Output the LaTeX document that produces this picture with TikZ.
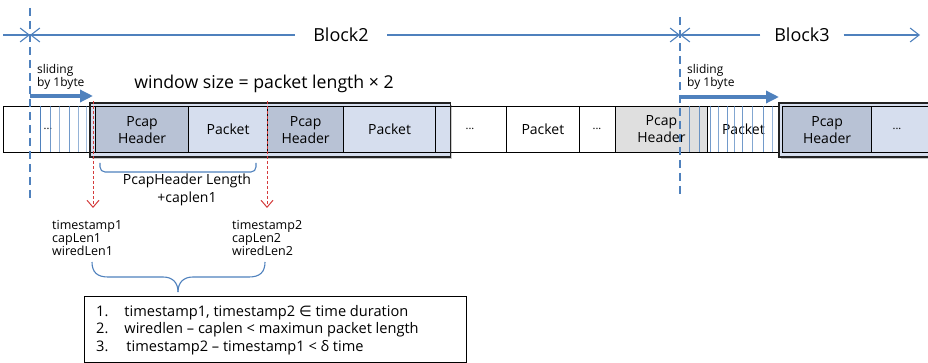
\documentclass[tikz,border=0pt]{standalone}
\usepackage{fontspec}
\setmainfont{Open Sans}
\newfontfamily\symfont{DejaVu Sans}
\usetikzlibrary{arrows.meta,shadows}

\definecolor{lineblue}{RGB}{79,129,189}
\definecolor{hdrfill}{RGB}{184,194,213}
\definecolor{pktfill}{RGB}{214,222,238}
\definecolor{grayfill}{RGB}{223,223,223}
\definecolor{redline}{RGB}{212,60,60}
\definecolor{framegray}{RGB}{35,35,35}

\tikzset{
  cell/.style={draw=black, line width=0.8pt, minimum height=46pt, inner sep=0pt,
    anchor=north west, align=center, font=\fontsize{14}{17}\selectfont},
  dots/.style={font=\fontsize{11}{12}\selectfont},
  window/.style={draw=none, fill=pktfill, anchor=north west, minimum height=54pt,
    inner sep=0pt, drop shadow={shadow xshift=2pt, shadow yshift=-2pt, opacity=0.35, fill=black!60}},
  winframe/.style={draw=framegray, line width=1.8pt},
  blockline/.style={draw=lineblue, line width=1.1pt, -{Straight Barb[length=9pt,width=14pt,line width=1.1pt]}},
  blocklabel/.style={font=\fontsize{18}{20}\selectfont, inner sep=0pt},
  boundary/.style={draw=lineblue, line width=2pt, dash pattern=on 8pt off 5pt},
  slidearrow/.style={draw=lineblue, line width=4pt, -{Triangle[length=13pt,width=12pt]}},
  slidelabel/.style={font=\fontsize{12}{13}\selectfont, align=left, inner sep=0pt, anchor=west},
  byteline/.style={draw=lineblue, line width=0.9pt},
  probe/.style={draw=redline, line width=1pt, dash pattern=on 3pt off 2pt,
    -{Straight Barb[length=7pt,width=12pt,line width=1pt]}},
  fieldlist/.style={font=\fontsize{12.5}{13}\selectfont, align=left, inner sep=0pt, anchor=north west},
}

\begin{document}
\begin{tikzpicture}[x=1pt, y=-1pt]
\useasboundingbox (0,0) rectangle (928,363);

% windows (fill and shadow behind the cells)
\node[window, minimum width=360pt] (win1) at (90,103) {};
\node[window, minimum width=160pt] (win2) at (779,103) {};

% packet stream cells
\node[cell, minimum width=92pt] (c0) at (3,106) {};
\node[dots] (c0dots) at (48,129) {...};
\node[cell, minimum width=93pt, fill=hdrfill, line width=1.2pt] (h1) at (95,106) {Pcap\\Header};
\node[cell, minimum width=79pt, fill=pktfill, line width=1.2pt] (p1) at (188,106) {Packet};
\node[cell, minimum width=76pt, fill=hdrfill, line width=1.2pt] (h2) at (267,106) {Pcap\\Header};
\node[cell, minimum width=92pt, fill=pktfill, line width=1.2pt] (p2) at (343,106) {Packet};
\node[cell, minimum width=71pt] (c5) at (435,106) {};
\node[dots] (c5dots) at (470,129) {...};
\node[cell, minimum width=73pt] (c6) at (506,106) {Packet};
\node[cell, minimum width=36pt] (c7) at (579,106) {};
\node[dots] (c7dots) at (597,129) {...};
\node[cell, minimum width=92pt, fill=grayfill] (c8) at (615,106) {Pcap\\Header};
\node[cell, minimum width=72pt] (c9) at (707,106) {Packet};
\node[cell, minimum width=89pt, fill=hdrfill, line width=1.2pt] (h3) at (782,106) {Pcap\\Header};
\node[cell, minimum width=70pt, fill=pktfill, line width=1.2pt] (c11) at (871,106) {};
\node[dots] (c11dots) at (897,129) {...};

% byte-by-byte slide marks
\foreach \x/\o in {40/1,50/0.8,59/0.6,69/0.8,78/0.6,86/0.5,689/0.8,699/0.8,710/0.8,718/0.7,727/0.8,734/0.7,742/0.8,752/0.7,763/0.8,772/0.6}
  \draw[byteline, draw opacity=\o] (\x,106) -- (\x,152);

% window frames
\draw[winframe] (win1.north west) rectangle (win1.south east);
\draw[winframe] (win2.north west) rectangle (win2.south east);

% block boundaries
\coordinate (bnd1top) at (30,8);
\coordinate (bnd1bot) at (30,199);
\coordinate (bnd2top) at (680,17);
\coordinate (bnd2bot) at (680,197);
\draw[boundary] (bnd1top) -- (bnd1bot);
\draw[boundary] (bnd2top) -- (bnd2bot);

% block extents
\coordinate (blkstart) at (3,35);
\coordinate (blk2a) at (30,35);
\coordinate (blk3a) at (680,35);
\coordinate (blkend) at (920,35);
\node[blocklabel, minimum width=92pt] (b2) at (341,35) {Block2};
\node[blocklabel, minimum width=83pt] (b3) at (802,35) {Block3};
\draw[blockline] (blkstart) -- (blk2a);
\draw[blockline] (b2.west) -- (blk2a);
\draw[blockline] (b2.east) -- (blk3a);
\draw[blockline] (b3.west) -- (blk3a);
\draw[blockline] (b3.east) -- (blkend);

% sliding by one byte
\node[slidelabel] (sl1) at (37,77) {sliding\\by 1byte};
\node[slidelabel] (sl2) at (687,77) {sliding\\by 1byte};
\coordinate (s1a) at (30,96);
\coordinate (s1b) at (93,96);
\coordinate (s2a) at (680,97);
\coordinate (s2b) at (779,97);
\draw[slidearrow] (s1a) -- (s1b);
\draw[slidearrow] (s2a) -- (s2b);

\node[font=\fontsize{17.7}{19}\selectfont, inner sep=0pt] (wsize) at (264,84) {window size = packet length × 2};

% header + caplen span
\coordinate (spanl) at (100,163);
\coordinate (spanr) at (256,163);
\draw[lineblue, line width=1.1pt, rounded corners=5pt] (spanl) -- (100,172) -- (256,172) -- (spanr);
\node[font=\fontsize{14}{18}\selectfont, align=center, inner sep=0pt] (spantxt) at (187,190) {PcapHeader Length\\+caplen1};

% probes into the two pcap headers
\coordinate (pr1a) at (93,101);
\coordinate (pr1b) at (93,208);
\coordinate (pr2a) at (267,101);
\coordinate (pr2b) at (267,208);
\draw[probe] (pr1a) -- (pr1b);
\draw[probe] (pr2a) -- (pr2b);

% extracted header fields
\node[fieldlist] (f1) at (52,220) {timestamp1\\capLen1\\wiredLen1};
\node[fieldlist] (f2) at (232,220) {timestamp2\\capLen2\\wiredLen2};

% brace joining both field sets
\coordinate (brl) at (92,262);
\coordinate (brr) at (265,262);
\coordinate (brm) at (178,292);
\draw[lineblue, line width=1.1pt]
  (brl) .. controls (92,272) and (97,277) .. (108,277) -- (163,277)
        .. controls (172,277) and (178,282) .. (brm);
\draw[lineblue, line width=1.1pt]
  (brr) .. controls (265,272) and (260,277) .. (249,277) -- (193,277)
        .. controls (184,277) and (178,282) .. (brm);

% conditions
\node[draw=black, line width=1.4pt, minimum width=382pt, minimum height=66pt, anchor=north west, inner sep=0pt] (cond) at (84,296) {};
\node[font=\fontsize{14.6}{17.5}\selectfont, inner sep=0pt, anchor=north west] (condtxt) at (96,304) {%
  \begin{tabular}{@{}l@{\hspace{16pt}}l@{}}
  1. & timestamp1, timestamp2 {\symfont ∈} time duration\\
  2. & wiredlen – caplen < maximun packet length\\
  3. & \hspace{2pt}timestamp2 – timestamp1 < δ time
  \end{tabular}};
\end{tikzpicture}
\end{document}
